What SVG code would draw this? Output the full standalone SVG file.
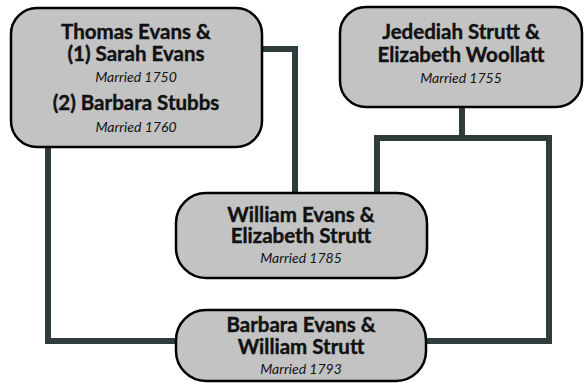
<svg xmlns="http://www.w3.org/2000/svg" width="587" height="384" viewBox="0 0 587 384">
<style>
.box{fill:#c3c3c3;stroke:#000;stroke-width:2.5}
.n{font-family:Lato,"Open Sans",sans-serif;font-weight:bold;font-size:20.5px;fill:#111;stroke:#111;stroke-width:0.4;text-anchor:middle}
.m{font-family:Lato,"Open Sans",sans-serif;font-style:italic;font-size:14px;fill:#111;text-anchor:middle}
.c{fill:none;stroke:#2e3d3b;stroke-width:6;stroke-linejoin:miter}
</style>
<rect width="587" height="384" fill="#fff"/>
<g id="connectors">
<path class="c" d="M262,49 H295 V194"/>
<path class="c" d="M48,146 V341 H177"/>
<path class="c" d="M462,106 V138"/>
<path class="c" d="M377,194 V138 H549 V341 H425"/>
</g>
<g id="thomas">
<rect class="box" x="11" y="8" width="251" height="139" rx="26"/>
<text class="n" x="136" y="39">Thomas Evans &amp;</text>
<text class="n" x="136" y="61">(1) Sarah Evans</text>
<text class="m" x="136" y="82">Married 1750</text>
<text class="n" x="136" y="110">(2) Barbara Stubbs</text>
<text class="m" x="136" y="132">Married 1760</text>
</g>
<g id="jedediah">
<rect class="box" x="340" y="7" width="242" height="100" rx="26"/>
<text class="n" x="461" y="39">Jedediah Strutt &amp;</text>
<text class="n" x="461" y="62">Elizabeth Woollatt</text>
<text class="m" x="461" y="83">Married 1755</text>
</g>
<g id="william">
<rect class="box" x="176" y="193" width="251" height="85" rx="30"/>
<text class="n" x="301" y="222">William Evans &amp;</text>
<text class="n" x="301" y="243">Elizabeth Strutt</text>
<text class="m" x="301" y="263">Married 1785</text>
</g>
<g id="barbara">
<rect class="box" x="176" y="310" width="250" height="71" rx="30"/>
<text class="n" x="301" y="332">Barbara Evans &amp;</text>
<text class="n" x="301" y="354">William Strutt</text>
<text class="m" x="301" y="374">Married 1793</text>
</g>
</svg>
